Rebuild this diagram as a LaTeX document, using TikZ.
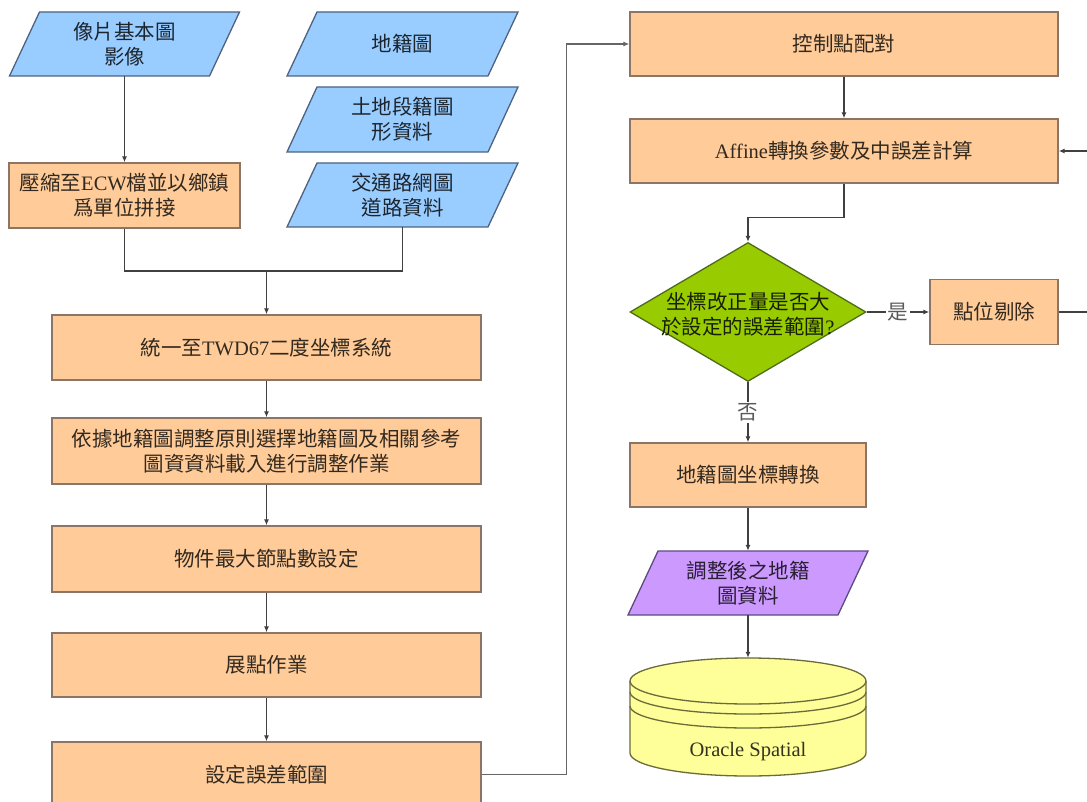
\documentclass[tikz,border=0pt]{standalone}
\usepackage{fontspec}
\setmainfont{Liberation Serif}
\newfontfamily\cjk{Noto Sans CJK TC}
\usetikzlibrary{arrows.meta,calc,shapes.geometric}
\definecolor{bluef}{HTML}{99CCFF}
\definecolor{blued}{HTML}{4F6280}
\definecolor{orangef}{HTML}{FFCC99}
\definecolor{oranged}{HTML}{8C7564}
\definecolor{greenf}{HTML}{99CC00}
\definecolor{greend}{HTML}{4D6B1A}
\definecolor{purplef}{HTML}{CC99FF}
\definecolor{purpled}{HTML}{5C4B80}
\definecolor{yellowf}{HTML}{FFFF99}
\definecolor{yellowd}{HTML}{6B6B3A}
\definecolor{linec}{HTML}{404040}
\newcommand\latn[1]{{\rmfamily #1}}
\newcommand\mypara[5]{\filldraw[#1] ({#2-#4+15},{#3-#5}) -- ({#2+#4+15},{#3-#5}) -- ({#2+#4-15},{#3+#5}) -- ({#2-#4-15},{#3+#5}) -- cycle;}
\tikzset{
  txt/.style={font=\cjk\fontsize{20.5}{25}\selectfont, align=center, inner sep=0pt},
  stepbox/.style={txt, draw=oranged, fill=orangef, line width=1.3pt, text=black!80!orangef},
  bluep/.style={draw=blued, fill=bluef, line width=1.3pt},
  purp/.style={draw=purpled, fill=purplef, line width=1.3pt},
  ptxt/.style={txt, text=black!82!bluef},
  conn/.style={draw=linec, line width=1.2pt},
  arr/.style={conn, -{Latex[length=6pt,width=5pt]}},
  lbl/.style={txt, fill=white, text=black!65, inner sep=1.5pt},
}
\begin{document}
\begin{tikzpicture}[x=1pt,y=-1pt]
\useasboundingbox (0,0) rectangle (1087,802);
\fill[white] (0,0) rectangle (1087,802);
\clip (0,0) rectangle (1087,802);

% input parallelograms
\mypara{bluep}{124.5}{44}{100}{32}
\mypara{bluep}{402.5}{44}{100.5}{32}
\mypara{bluep}{402.5}{119.5}{100.5}{32.5}
\mypara{bluep}{402.5}{195}{100.5}{32}
\node[ptxt, minimum width=200pt, minimum height=64pt] (p1) at (124.5,44) {像片基本圖\\影像};
\node[ptxt, minimum width=200pt, minimum height=64pt] (p2) at (402.5,44) {地籍圖};
\node[ptxt, minimum width=200pt, minimum height=65pt] (p3) at (402.5,119.5) {土地段籍圖\\形資料};
\node[ptxt, minimum width=200pt, minimum height=64pt] (p4) at (402.5,195) {交通路網圖\\道路資料};

% left column
\node[stepbox, minimum width=231pt, minimum height=65pt] (b1) at (124.5,195.5) {壓縮至\latn{ECW}檔並以鄉鎮\\爲單位拼接};
\node[stepbox, minimum width=429pt, minimum height=65pt] (l1) at (266.5,347.5) {統一至\latn{TWD67}二度坐標系統};
\node[stepbox, minimum width=429pt, minimum height=66pt] (l2) at (266.5,451) {依據地籍圖調整原則選擇地籍圖及相關參考\\圖資資料載入進行調整作業};
\node[stepbox, minimum width=429pt, minimum height=66pt] (l3) at (266.5,559) {物件最大節點數設定};
\node[stepbox, minimum width=429pt, minimum height=64pt] (l4) at (266.5,665) {展點作業};
\node[stepbox, minimum width=429pt, minimum height=65pt] (l5) at (266.5,774.5) {設定誤差範圍};

% right column
\node[stepbox, minimum width=428pt, minimum height=64pt] (r1) at (844,44) {控制點配對};
\node[stepbox, minimum width=428pt, minimum height=64pt] (r2) at (844,151) {\latn{Affine}轉換參數及中誤差計算};
\node[diamond, draw=greend, fill=greenf, line width=1.3pt, minimum width=236pt, minimum height=139pt, inner sep=0pt] (dec) at (748,312) {};
\node[txt, text=black!85!greenf] (dect) at (748,314) {坐標改正量是否大\\於設定的誤差範圍\latn{?}};
\node[stepbox, minimum width=128pt, minimum height=65pt] (r3) at (994,312) {點位剔除};
\node[stepbox, minimum width=236pt, minimum height=64pt] (r4) at (748,475) {地籍圖坐標轉換};
\mypara{purp}{748}{583}{105}{32}
\node[txt, text=black!80!purplef, minimum width=210pt, minimum height=64pt] (pu) at (748,583) {調整後之地籍\\圖資料};

% cylinder
\filldraw[draw=yellowd, fill=yellowf, line width=1.3pt] (630,681) -- (630,753) arc[start angle=180, end angle=360, x radius=118pt, y radius=23pt] -- (866,681) arc[start angle=0, end angle=180, x radius=118pt, y radius=23pt] -- cycle;
\draw[draw=yellowd, line width=1.3pt] (630,681) arc[start angle=180, end angle=360, x radius=118pt, y radius=23pt];
\draw[draw=yellowd, line width=1.3pt] (630,692) arc[start angle=180, end angle=360, x radius=118pt, y radius=22pt];
\draw[draw=yellowd, line width=1.3pt] (630,706) arc[start angle=180, end angle=360, x radius=118pt, y radius=22pt];
\node[minimum width=236pt, minimum height=118pt, inner sep=0pt] (db) at (748,717) {};
\node[font=\rmfamily\fontsize{20.5}{24}\selectfont, text=black!80!yellowf, inner sep=0pt] (dbt) at (748,752) {Oracle Spatial};

% connectors left
\draw[arr] (p1.south) -- (b1.north);
\coordinate (j) at (266.5,271);
\draw[conn] (b1.south) |- (j);
\draw[conn] (p4.south) |- (j);
\draw[arr] (j) -- (l1.north);
\draw[arr] (l1.south) -- (l2.north);
\draw[arr] (l2.south) -- (l3.north);
\draw[arr] (l3.south) -- (l4.north);
\draw[arr] (l4.south) -- (l5.north);
\draw[arr, draw=black!60] (l5.east) -- ++(85,0) |- (r1.west);

% connectors right
\draw[arr] (r1.south) -- (r2.north);
\draw[arr] (r2.south) -- ++(0,34) -| (dec.north);
\draw[arr] (dec.east) -- node[lbl] (yes) {是} (r3.west);
\draw[arr] (dec.south) -- node[lbl] (no) {否} (r4.north);
\draw[arr] (r3.east) -- ++(45,0) |- (r2.east);
\draw[arr] (r4.south) -- (pu.north);
\draw[arr] (pu.south) -- (db.north);
\end{tikzpicture}
\end{document}
